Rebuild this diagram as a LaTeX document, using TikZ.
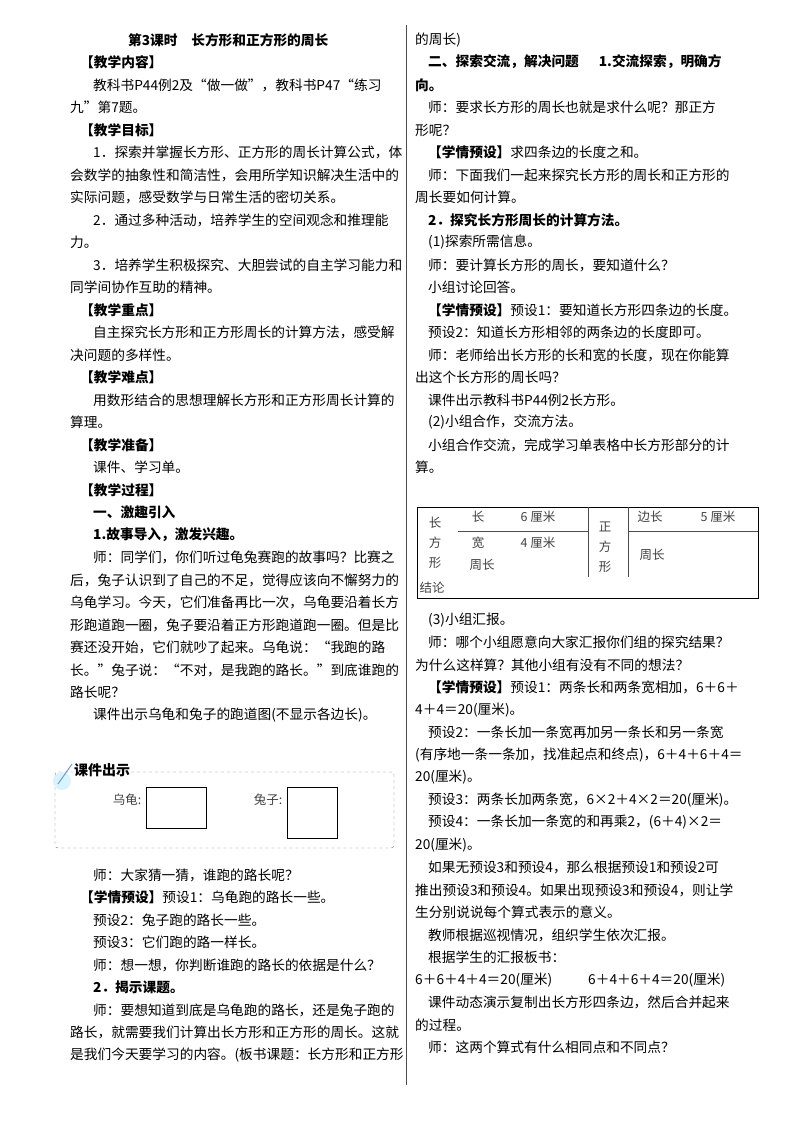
\documentclass[tikz,border=0pt]{standalone}
\usepackage{fontspec}
\setmainfont{Noto Sans CJK SC}
\begin{document}
\begin{tikzpicture}[x=1pt,y=-1pt,
  t/.style={anchor=west,inner sep=0pt,font=\fontsize{13.7}{16}\selectfont},
  b/.style={t,font=\fontsize{13.7}{16}\selectfont\bfseries},
  s/.style={anchor=center,inner sep=0pt,font=\fontsize{12.5}{14}\selectfont,text=black!75}]
\useasboundingbox (0,0) rectangle (800,1132);
\draw[black!70,line width=0.6pt] (406,25) -- (406,1085);
% left column
\node[b] (a1) at (128,40) {第3课时\quad 长方形和正方形的周长};
\node[b] (a2) at (80,62) {【教学内容】};
\node[t] (a3) at (93,85) {教科书P44例2及“做一做”，教科书P47“练习};
\node[t] (a4) at (70,107) {九”第7题。};
\node[b] (a5) at (80,130) {【教学目标】};
\node[t] (a6) at (93,152) {1．探索并掌握长方形、正方形的周长计算公式，体};
\node[t] (a7) at (70,175) {会数学的抽象性和简洁性，会用所学知识解决生活中的};
\node[t] (a8) at (70,197) {实际问题，感受数学与日常生活的密切关系。};
\node[t] (a9) at (93,220) {2．通过多种活动，培养学生的空间观念和推理能};
\node[t] (a10) at (70,242) {力。};
\node[t] (a11) at (93,265) {3．培养学生积极探究、大胆尝试的自主学习能力和};
\node[t] (a12) at (70,287) {同学间协作互助的精神。};
\node[b] (a13) at (80,310) {【教学重点】};
\node[t] (a14) at (93,332) {自主探究长方形和正方形周长的计算方法，感受解};
\node[t] (a15) at (70,355) {决问题的多样性。};
\node[b] (a16) at (80,377) {【教学难点】};
\node[t] (a17) at (93,400) {用数形结合的思想理解长方形和正方形周长计算的};
\node[t] (a18) at (70,422) {算理。};
\node[b] (a19) at (80,445) {【教学准备】};
\node[t] (a20) at (93,467) {课件、学习单。};
\node[b] (a21) at (80,490) {【教学过程】};
\node[b] (a22) at (93,512) {一、激趣引入};
\node[b] (a23) at (93,535) {1.故事导入，激发兴趣。};
\node[t] (a24) at (93,557) {师：同学们，你们听过龟兔赛跑的故事吗？比赛之};
\node[t] (a25) at (70,580) {后，兔子认识到了自己的不足，觉得应该向不懈努力的};
\node[t] (a26) at (70,602) {乌龟学习。今天，它们准备再比一次，乌龟要沿着长方};
\node[t] (a27) at (70,625) {形跑道跑一圈，兔子要沿着正方形跑道跑一圈。但是比};
\node[t] (a28) at (70,647) {赛还没开始，它们就吵了起来。乌龟说：“我跑的路};
\node[t] (a29) at (70,670) {长。”兔子说：“不对，是我跑的路长。”到底谁跑的};
\node[t] (a30) at (70,692) {路长呢？};
\node[t] (a31) at (93,715) {课件出示乌龟和兔子的跑道图(不显示各边长)。};
% box
\draw[black!55,dashed,rounded corners=3pt] (55,772) rectangle (394,848);
\fill[cyan!15] (62,781) circle (9);
\draw[cyan!50!blue!60,line width=1pt] (58,784) -- (72,764);
\node[anchor=west,inner sep=1pt,fill=white,font=\fontsize{14}{16}\selectfont\bfseries] (kj) at (73,770) {课件出示};
\node[s] (wg) at (127,800) {乌龟:};
\draw[line width=1pt] (146,787) rectangle (206,828);
\node[s] (tz) at (268,800) {兔子:};
\draw[line width=1pt] (287,787) rectangle (337,838);
\node[t] (a32) at (93,875) {师：大家猜一猜，谁跑的路长呢？};
\node[t] (a33) at (80,897) {\textbf{【学情预设】}预设1：乌龟跑的路长一些。};
\node[t] (a34) at (93,920) {预设2：兔子跑的路长一些。};
\node[t] (a35) at (93,942) {预设3：它们跑的路一样长。};
\node[t] (a36) at (93,965) {师：想一想，你判断谁跑的路长的依据是什么？};
\node[b] (a37) at (93,987) {2．揭示课题。};
\node[t] (a38) at (93,1010) {师：要想知道到底是乌龟跑的路长，还是兔子跑的};
\node[t] (a39) at (70,1032) {路长，就需要我们计算出长方形和正方形的周长。这就};
\node[t] (a40) at (70,1055) {是我们今天要学习的内容。(板书课题：长方形和正方形};
% right column
\node[t] (b1) at (415,40) {的周长)};
\node[b] (b2) at (428,62) {二、探索交流，解决问题\quad\ \ 1.交流探索，明确方};
\node[b] (b3) at (415,85) {向。};
\node[t] (b4) at (428,107) {师：要求长方形的周长也就是求什么呢？那正方};
\node[t] (b5) at (415,130) {形呢？};
\node[t] (b6) at (428,152) {\textbf{【学情预设】}求四条边的长度之和。};
\node[t] (b7) at (428,175) {师：下面我们一起来探究长方形的周长和正方形的};
\node[t] (b8) at (415,197) {周长要如何计算。};
\node[b] (b9) at (428,220) {2．探究长方形周长的计算方法。};
\node[t] (b10) at (428,242) {(1)探索所需信息。};
\node[t] (b11) at (428,265) {师：要计算长方形的周长，要知道什么？};
\node[t] (b12) at (428,287) {小组讨论回答。};
\node[t] (b13) at (428,310) {\textbf{【学情预设】}预设1：要知道长方形四条边的长度。};
\node[t] (b14) at (428,332) {预设2：知道长方形相邻的两条边的长度即可。};
\node[t] (b15) at (428,355) {师：老师给出长方形的长和宽的长度，现在你能算};
\node[t] (b16) at (415,377) {出这个长方形的周长吗？};
\node[t] (b17) at (428,400) {课件出示教科书P44例2长方形。};
\node[t] (b18) at (428,422) {(2)小组合作，交流方法。};
\node[t] (b19) at (428,445) {小组合作交流，完成学习单表格中长方形部分的计};
\node[t] (b20) at (415,467) {算。};
% table
\draw[line width=1pt] (417,507) rectangle (758,598);
\draw[black!70] (588,507) -- (588,577) (628,507) -- (628,577)
  (458,531) -- (588,531) (628,531) -- (758,531);
\node[s] (c1) at (435,523) {长};
\node[s] (c2) at (435,543) {方};
\node[s] (c3) at (435,563) {形};
\node[s] (c4) at (478,517) {长};
\node[s] (c5) at (538,517) {6 厘米};
\node[s] (c6) at (478,543) {宽};
\node[s] (c7) at (538,543) {4 厘米};
\node[s] (c8) at (482,565) {周长};
\node[s] (c9) at (605,527) {正};
\node[s] (c10) at (605,547) {方};
\node[s] (c11) at (605,567) {形};
\node[s] (c12) at (650,517) {边长};
\node[s] (c13) at (718,517) {5 厘米};
\node[s] (c14) at (652,555) {周长};
\node[s] (c15) at (432,588) {结论};
\node[t] (b21) at (428,620) {(3)小组汇报。};
\node[t] (b22) at (428,642) {师：哪个小组愿意向大家汇报你们组的探究结果？};
\node[t] (b23) at (415,665) {为什么这样算？其他小组有没有不同的想法？};
\node[t] (b24) at (428,687) {\textbf{【学情预设】}预设1：两条长和两条宽相加，6＋6＋};
\node[t] (b25) at (415,710) {4＋4＝20(厘米)。};
\node[t] (b26) at (428,732) {预设2：一条长加一条宽再加另一条长和另一条宽};
\node[t] (b27) at (415,755) {(有序地一条一条加，找准起点和终点)，6＋4＋6＋4＝};
\node[t] (b28) at (415,777) {20(厘米)。};
\node[t] (b29) at (428,800) {预设3：两条长加两条宽，6×2＋4×2＝20(厘米)。};
\node[t] (b30) at (428,822) {预设4：一条长加一条宽的和再乘2，(6＋4)×2＝};
\node[t] (b31) at (415,845) {20(厘米)。};
\node[t] (b32) at (428,867) {如果无预设3和预设4，那么根据预设1和预设2可};
\node[t] (b33) at (415,890) {推出预设3和预设4。如果出现预设3和预设4，则让学};
\node[t] (b34) at (415,912) {生分别说说每个算式表示的意义。};
\node[t] (b35) at (428,935) {教师根据巡视情况，组织学生依次汇报。};
\node[t] (b36) at (428,957) {根据学生的汇报板书：};
\node[t] (b37) at (415,980) {6＋6＋4＋4＝20(厘米)};
\node[t] (b38) at (588,980) {6＋4＋6＋4＝20(厘米)};
\node[t] (b39) at (428,1002) {课件动态演示复制出长方形四条边，然后合并起来};
\node[t] (b40) at (415,1025) {的过程。};
\node[t] (b41) at (428,1047) {师：这两个算式有什么相同点和不同点？};
\end{tikzpicture}
\end{document}
